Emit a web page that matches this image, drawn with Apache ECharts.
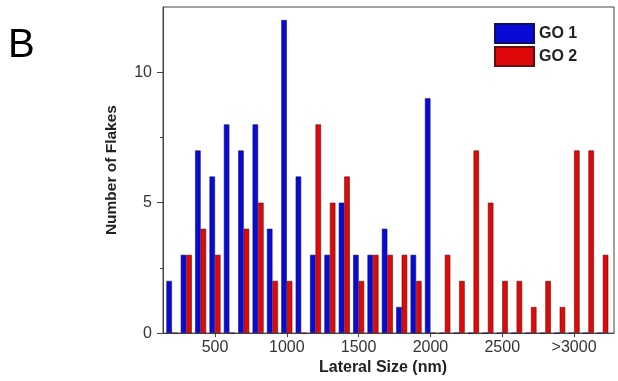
<!DOCTYPE html>
<html>
<head>
<meta charset="utf-8">
<script src="https://cdn.jsdelivr.net/npm/echarts@6/dist/echarts.min.js"></script>
<style>
html,body{margin:0;padding:0;background:#fff;}
#c{width:618px;height:381px;}
</style>
</head>
<body>
<div id="c"></div>
<script>
const bins = [200,300,400,500,600,700,800,900,1000,1100,1200,1300,1400,1500,1600,1700,1800,1900,2000,2100,2200,2300,2400,2500,2600,2700,2800,2900,3000,3100,3200];
const go1 = [2,3,7,6,8,7,8,4,12,6,3,3,5,3,3,4,1,3,9,0,0,0,0,0,0,0,0,0,0,0,0];
const go2 = [0,3,4,3,0,4,5,2,2,0,8,5,6,2,3,3,3,2,0,3,2,7,5,2,2,1,2,1,7,7,3];
const xTickValues = [500,1000,1500,2000,2500,3000];
const xTickLabels = ['500','1000','1500','2000','2500','>3000'];
const yTickValues = [0,5,10];
const yMinorTicks = [2.5,7.5];
const seriesNames = ['GO 1','GO 2'];

const font = 'Liberation Sans, Arial, sans-serif';
const chart = echarts.init(document.getElementById('c'), null, {renderer:'canvas'});
chart.setOption({
  animation:false,
  backgroundColor:'#fff',
  grid:{left:163, right:4, top:7, bottom:45, show:true, borderColor:'#444', borderWidth:1, backgroundColor:'transparent'},
  graphic:[{type:'text', left:8, top:26, style:{text:'B', font:'40px '+font, fill:'#000'}}],
  legend:{
    orient:'vertical', left:489, top:18, itemWidth:39, itemHeight:19, itemGap:2,
    icon:'rect',
    textStyle:{fontFamily:font, fontSize:16, fontWeight:'bold', color:'#222', padding:[0,0,0,0]},
    data:seriesNames
  },
  xAxis:{
    type:'value', min:138, max:3278,
    name:'Lateral Size (nm)', nameLocation:'middle', nameGap:25,
    nameTextStyle:{fontFamily:font, fontSize:16, fontWeight:'bold', color:'#222', padding:[0,11,0,0]},
    splitLine:{show:false},
    axisLine:{lineStyle:{color:'#444', width:1}},
    axisTick:{show:true, length:4, customValues:xTickValues, lineStyle:{color:'#444'}},
    axisLabel:{customValues:xTickValues, margin:6, fontFamily:font, fontSize:16, color:'#333',
      formatter:function(v){const i=xTickValues.indexOf(v);return i>=0?xTickLabels[i]:'';}}
  },
  yAxis:[{
    type:'value', min:0, max:12.5,
    name:'Number of Flakes', nameLocation:'middle', nameGap:43, nameRotate:90,
    nameTextStyle:{fontFamily:font, fontSize:15.5, fontWeight:'bold', color:'#222'},
    splitLine:{show:false},
    axisLine:{show:true, lineStyle:{color:'#444', width:1}},
    axisTick:{show:true, length:6, customValues:yTickValues, lineStyle:{color:'#444'}},
    axisLabel:{customValues:yTickValues, margin:11, fontFamily:font, fontSize:16, color:'#333'}
  },{
    type:'value', min:0, max:12.5, position:'left',
    splitLine:{show:false},
    axisLine:{show:false},
    axisTick:{show:true, length:3, customValues:yMinorTicks, lineStyle:{color:'#444'}},
    axisLabel:{show:false}
  }],
  series:[{
    name:seriesNames[0], type:'bar', barWidth:5.5, barGap:'0%',
    itemStyle:{color:'#0a0ad6', borderColor:'#101060', borderWidth:0.6},
    data:bins.map((b,i)=>[b,go1[i]])
  },{
    name:seriesNames[1], type:'bar', barWidth:5.5, barGap:'0%',
    itemStyle:{color:'#e00808', borderColor:'#601010', borderWidth:0.6},
    data:bins.map((b,i)=>[b,go2[i]])
  }]
});
</script>
</body>
</html>
